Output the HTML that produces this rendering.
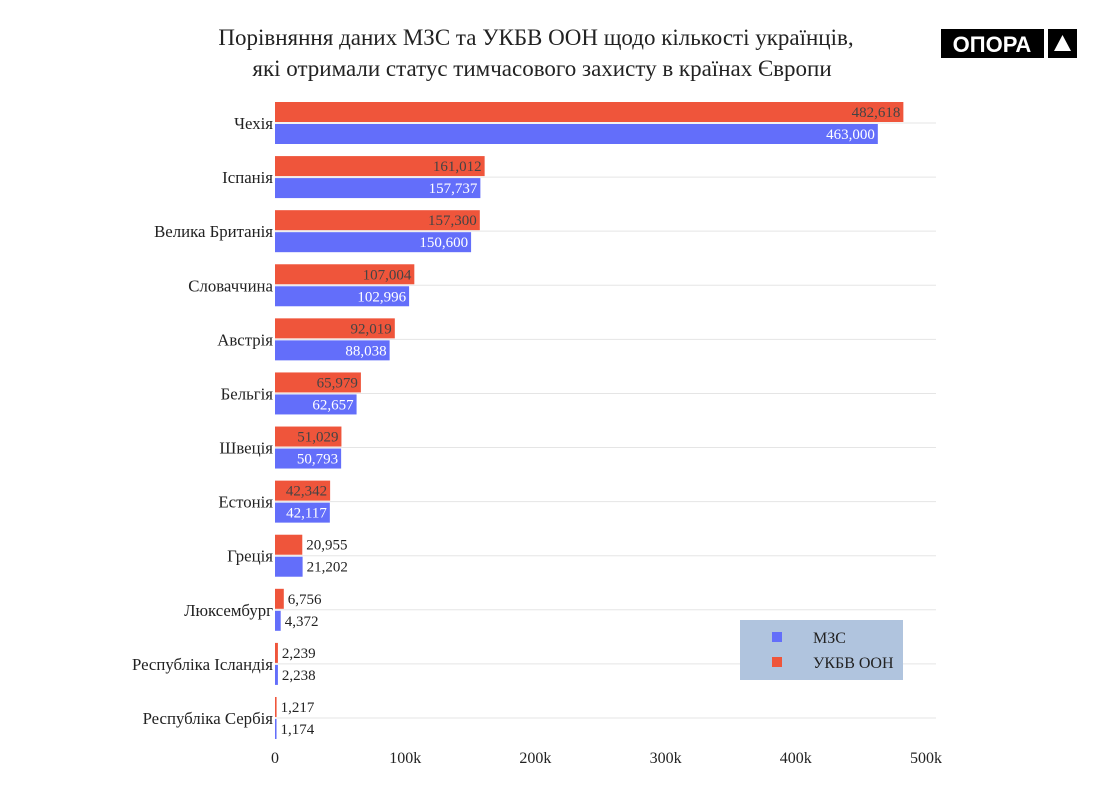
<!DOCTYPE html>
<html><head><meta charset="utf-8"><style>
body{margin:0;background:#fff;}
svg{font-family:"Liberation Serif",serif;}
</style></head><body>
<svg id="c" width="1108" height="800" xmlns="http://www.w3.org/2000/svg">
<text x="536" y="45" text-anchor="middle" font-size="23" fill="#222">Порівняння даних МЗС та УКБВ ООН щодо кількості українців,</text>
<text x="542" y="76" text-anchor="middle" font-size="23" fill="#222">які отримали статус тимчасового захисту в країнах Європи</text>
<g>
<rect x="941" y="29" width="103" height="29" fill="#000"/>
<text x="992" y="52" text-anchor="middle" font-family="Liberation Sans,sans-serif" font-weight="bold" font-size="22" fill="#fff">ОПОРА</text>
<rect x="1048" y="29" width="29" height="29" fill="#000"/>
<polygon points="1062.5,35 1071,51 1054,51" fill="#fff"/>
</g>
<g id="grid"></g><g id="bars"></g><g id="axis"></g>
<g>
<rect x="740" y="620" width="163" height="60" fill="#b0c4de"/>
<rect x="772" y="632" width="10" height="10" fill="#636efa"/>
<text x="813" y="643" font-size="16" fill="#222">МЗС</text>
<rect x="772" y="657" width="10" height="10" fill="#ef553b"/>
<text x="813" y="668" font-size="16" fill="#222">УКБВ ООН</text>
</g>
</svg>
<script>
const categories=["Чехія","Іспанія","Велика Британія","Словаччина","Австрія","Бельгія","Швеція","Естонія","Греція","Люксембург","Республіка Ісландія","Республіка Сербія"];
const mzs=[463000,157737,150600,102996,88038,62657,50793,42117,21202,4372,2238,1174];
const unhcr=[482618,161012,157300,107004,92019,65979,51029,42342,20955,6756,2239,1217];
const ticks=[0,100000,200000,300000,400000,500000];
const tickLabels=["0","100k","200k","300k","400k","500k"];
const NS="http://www.w3.org/2000/svg";
const x=v=>275+v*(651/500000);
const y=i=>123+i*54.09;
function mk(t,a,p){const e=document.createElementNS(NS,t);for(const k in a)e.setAttribute(k,a[k]);p.appendChild(e);return e;}
const g=document.getElementById('grid'),b=document.getElementById('bars'),ax=document.getElementById('axis');
const fmt=v=>v.toLocaleString('en-US');
categories.forEach((c,i)=>{
 const cy=y(i);
 const gl=mk('line',{x1:275,x2:936,y1:cy,y2:cy,stroke:'#e5e5e5','stroke-width':1},g);
 
 
 const lb=mk('text',{x:273,y:cy+6,'text-anchor':'end','font-size':16.8,fill:'#222'},ax);
 lb.textContent=c;
 
 
 [[unhcr[i],'#ef553b',cy-21,'#444','bar-unhcr'],[mzs[i],'#636efa',cy+1,'#fff','bar-mzs']].forEach(([v,col,top,tc,nm])=>{
  const w=x(v)-275;
  const r=mk('rect',{x:275,y:top,width:w,height:20,fill:col},b);
  
  
  const inside=w>40;
  const t=mk('text',{x:inside?x(v)-3:x(v)+4,y:top+15,'text-anchor':inside?'end':'start','font-size':15,fill:inside?tc:'#222'},b);
  t.textContent=fmt(v);
  
  
 });
});
ticks.forEach((v,i)=>{
 const t=mk('text',{x:x(v),y:763,'text-anchor':'middle','font-size':16,fill:'#222'},ax);
 t.textContent=tickLabels[i];
 
 
});
</script>
</body></html>
